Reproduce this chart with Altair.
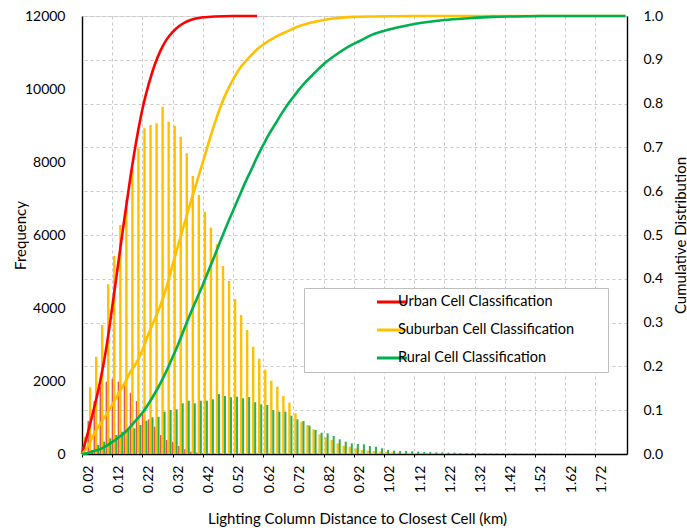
import altair as alt
import pandas as pd

# Histogram bins (bin start, km) shared by the three classifications
bin_start = [round(0.02 * i, 2) for i in range(90)]

urban_counts = [
    200, 904, 1450, 1844, 1981, 2060, 1981, 1900, 1680, 1450,
    1100, 950, 749, 520, 384, 338, 219, 128, 64, 40,
    20, 12, 8, 5, 3, 2, 1, 0, 0, 0,
] + [0] * 60

suburban_counts = [
    475, 1827, 2666, 3534, 4649, 5425, 6274, 6959, 7781, 8375,
    8923, 9014, 9060, 9516, 9105, 8995, 8694, 8238, 7616, 7096,
    6638, 6200, 5745, 5151, 4740, 4247, 3808, 3397, 2940, 2610,
    2310, 2008, 1844, 1589, 1406, 1115, 885, 795, 676, 540,
    458, 384, 292, 228, 200, 156, 110, 92, 82, 65,
    55, 45, 38, 30, 25, 20, 18, 15, 12, 10,
    8, 7, 6, 5, 4, 4, 3, 3, 2, 2,
    2, 1, 1, 1, 1, 0, 0, 0, 0, 0,
    0, 0, 0, 0, 0, 0, 0, 0, 0, 0,
]

rural_counts = [
    30, 110, 246, 338, 429, 520, 611, 676, 703, 795,
    912, 1005, 1020, 1159, 1205, 1225, 1389, 1460, 1389, 1460,
    1460, 1499, 1640, 1589, 1553, 1570, 1526, 1560, 1420, 1362,
    1342, 1205, 1159, 1159, 1050, 950, 904, 776, 658, 584,
    566, 493, 402, 338, 292, 274, 265, 219, 200, 156,
    110, 92, 82, 82, 73, 64, 55, 55, 46, 46,
    37, 37, 27, 27, 27, 22, 20, 18, 15, 13,
    12, 10, 9, 8, 8, 7, 6, 6, 5, 5,
    4, 4, 4, 3, 3, 3, 3, 2, 2, 2,
]

# Cumulative distributions
urban_cdf_km = [0.00, 0.02, 0.04, 0.06, 0.08, 0.10, 0.12, 0.14, 0.16, 0.18,
                0.20, 0.22, 0.24, 0.26, 0.28, 0.30, 0.32, 0.34, 0.36, 0.38,
                0.40, 0.44, 0.50, 0.58]
urban_cdf = [0.0, 0.05, 0.105, 0.165, 0.24, 0.335, 0.435, 0.535, 0.63, 0.715,
             0.787, 0.842, 0.887, 0.921, 0.946, 0.963, 0.976, 0.985, 0.991, 0.995,
             0.997, 0.999, 1.0, 1.0]

suburban_cdf_km = [0.00, 0.02, 0.04, 0.06, 0.08, 0.10, 0.12, 0.14, 0.16, 0.18,
                   0.20, 0.22, 0.24, 0.26, 0.28, 0.30, 0.32, 0.34, 0.36, 0.38,
                   0.40, 0.42, 0.44, 0.46, 0.48, 0.50, 0.52, 0.54, 0.56, 0.58,
                   0.60, 0.64, 0.68, 0.72, 0.76, 0.80, 0.84, 0.90, 0.96, 1.10,
                   1.30, 1.50, 1.80]
suburban_cdf = [0.0, 0.018, 0.046, 0.068, 0.09, 0.112, 0.137, 0.16, 0.187, 0.208,
                0.237, 0.274, 0.306, 0.34, 0.381, 0.432, 0.48, 0.528, 0.575, 0.62,
                0.666, 0.712, 0.756, 0.795, 0.828, 0.855, 0.878, 0.895, 0.91, 0.924,
                0.935, 0.952, 0.965, 0.977, 0.985, 0.991, 0.995, 0.998, 0.999, 1.0,
                1.0, 1.0, 1.0]

rural_cdf_km = [0.00, 0.02, 0.04, 0.06, 0.08, 0.10, 0.12, 0.14, 0.16, 0.18,
                0.20, 0.22, 0.24, 0.26, 0.28, 0.30, 0.32, 0.34, 0.36, 0.38,
                0.40, 0.42, 0.44, 0.46, 0.48, 0.50, 0.52, 0.54, 0.56, 0.58,
                0.60, 0.62, 0.64, 0.66, 0.68, 0.70, 0.72, 0.74, 0.76, 0.78,
                0.80, 0.84, 0.88, 0.92, 0.96, 1.00, 1.04, 1.08, 1.12, 1.20,
                1.28, 1.36, 1.44, 1.52, 1.66, 1.80]
rural_cdf = [0.0, 0.002, 0.007, 0.011, 0.018, 0.027, 0.037, 0.048, 0.062, 0.078,
             0.094, 0.114, 0.137, 0.162, 0.19, 0.221, 0.253, 0.288, 0.322, 0.354,
             0.386, 0.42, 0.454, 0.489, 0.523, 0.555, 0.587, 0.619, 0.648, 0.678,
             0.705, 0.731, 0.753, 0.776, 0.797, 0.815, 0.833, 0.849, 0.863, 0.877,
             0.89, 0.911, 0.929, 0.943, 0.957, 0.966, 0.973, 0.979, 0.984, 0.991,
             0.995, 0.998, 0.999, 1.0, 1.0, 1.0]

SERIES = ["Urban Cell Classification", "Suburban Cell Classification",
          "Rural Cell Classification"]
LINE_COLORS = ["#FF0000", "#FFC000", "#00B050"]

FONT = "Lato"
W, H = 545, 438
GRID = "#C9C9C9"

x_scale = alt.Scale(domain=[0, 1.805], nice=False, zero=False, padding=0)
y_count_scale = alt.Scale(domain=[0, 12000], nice=False, padding=0)
y_cdf_scale = alt.Scale(domain=[0, 1], nice=False, padding=0)

x_axis = alt.Axis(
    values=[round(0.1 * i, 1) for i in range(18)],
    labelExpr="format(datum.value + 0.02, '.2f')",
    labelAngle=270, labelOffset=6, labelPadding=8, labelFlush=False,
    labelOverlap=False, labelFont=FONT, labelFontSize=14, labelColor="black",
    tickSize=3, tickColor="black", domainColor="black", domainWidth=1.4,
    grid=True, gridDash=[3, 3], gridColor=GRID, gridWidth=1,
    title="Lighting Column Distance to Closest Cell (km)",
    titleFont=FONT, titleFontSize=15, titleFontWeight="normal", titleColor="black",
    titleX=275, titleY=64, titleAlign="center", titleBaseline="middle",
)

y_left_axis = alt.Axis(
    orient="left", values=list(range(0, 12001, 2000)), format="d",
    grid=False, ticks=False,
    domainColor="black", domainWidth=1.4, labelFont=FONT, labelFontSize=14,
    labelColor="black", labelPadding=17,
    title="Frequency", titleFont=FONT, titleFontSize=15, titleFontWeight="normal",
    titleColor="black", titleX=-62, titleY=H / 2, titleAngle=270,
    titleAlign="center", titleBaseline="middle",
)

y_right_axis = alt.Axis(
    orient="right", values=[round(0.1 * i, 1) for i in range(11)], format=".1f",
    grid=True, gridDash=[3, 3], gridColor=GRID, gridWidth=1, ticks=False,
    domainColor="black", domainWidth=1.4, labelFont=FONT, labelFontSize=14,
    labelColor="black", labelPadding=16,
    title="Cumulative Distribution", titleFont=FONT, titleFontSize=15,
    titleFontWeight="normal", titleColor="black", titleX=53, titleY=H / 2,
    titleAngle=270, titleAlign="center", titleBaseline="middle",
)


def histogram(counts, color, bar_width, shift):
    df = pd.DataFrame({"km": bin_start, "count": counts})
    return alt.Chart(df).mark_bar(width=bar_width, xOffset=shift, color=color).encode(
        x=alt.X("km:Q", scale=x_scale, axis=x_axis),
        y=alt.Y("count:Q", scale=y_count_scale, axis=y_left_axis),
    )


# the three histograms share one frequency scale and axis
bars = alt.layer(
    histogram(urban_counts, "#E5554B", 1.5, 0.2),
    histogram(suburban_counts, "#FFC000", 2.4, 2.1),
    histogram(rural_counts, "#2BB052", 2.0, 4.1),
)

cdf_frames = []
for name, kms, vals in zip(SERIES, [urban_cdf_km, suburban_cdf_km, rural_cdf_km],
                           [urban_cdf, suburban_cdf, rural_cdf]):
    cdf_frames.append(pd.DataFrame({"km": kms, "cdf": vals, "series": name}))
cdf_df = pd.concat(cdf_frames, ignore_index=True)

# legend key: a short horizontal stroke, shifted relative to the symbol anchor
legend_stroke = "M 0.05 0 H 3.05"
# trailing spacing keeps the legend frame wide; the zero-width end mark stops trimming
pad_label = "\u00a0" * 7 + "\u200b"
cdf_lines = alt.Chart(cdf_df).mark_line(strokeWidth=2.6, interpolate="monotone").encode(
    x=alt.X("km:Q", scale=x_scale, axis=x_axis),
    y=alt.Y("cdf:Q", scale=y_cdf_scale, axis=y_right_axis),
    color=alt.Color(
        "series:N",
        scale=alt.Scale(domain=SERIES, range=LINE_COLORS),
        legend=alt.Legend(
            orient="none", legendX=222, legendY=272, title=None,
            symbolType=legend_stroke, symbolSize=400, symbolStrokeWidth=3,
            clipHeight=14, rowPadding=13, padding=7, symbolOffset=54,
            labelOffset=10, labelLimit=600, labelFont=FONT, labelFontSize=14.5,
            labelColor="black",
            labelExpr="datum.label + '" + pad_label + "'",
            strokeColor="#BFBFBF", fillColor="white", cornerRadius=0,
        ),
    ),
    detail="series:N",
)

chart = alt.layer(bars, cdf_lines).resolve_scale(
    y="independent"
).properties(
    width=W, height=H,
    autosize=alt.AutoSizeParams(type="none"),
    padding={"left": 82, "top": 16, "right": 60, "bottom": 74},
).configure_view(
    stroke="black", strokeWidth=1.4,
).configure(font=FONT, background="white")

chart.save("out.html", embed_options={"renderer": "svg", "actions": False})
